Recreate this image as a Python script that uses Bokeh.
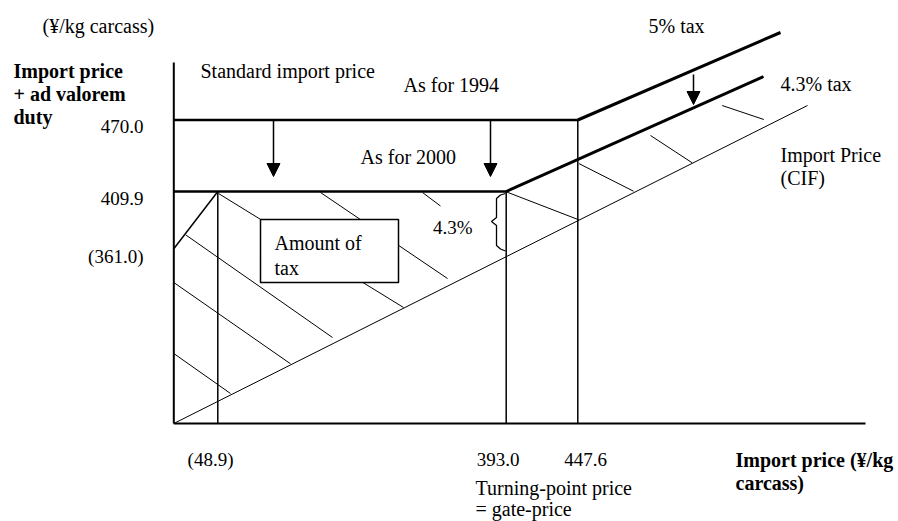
from bokeh.plotting import figure
from bokeh.models import Range1d, Arrow, NormalHead, Label
from bokeh.embed import file_html
from bokeh.resources import INLINE

# ---------------- data (values shown in the diagram) ----------------
import_price_vals = [48.9, 393.0, 447.6]
import_price_labels = ["(48.9)", "393.0", "447.6"]
duty_price_vals = [470.0, 409.9, 361.0]
duty_price_labels = ["470.0", "409.9", "(361.0)"]
tax_rates = ["5% tax", "4.3% tax"]

# ---------------- schematic layout (diagram is not to scale) ----------------
W, H = 898, 521
OX, OY = 173.3, 423.0          # origin of the diagram
XPOS = {0.0: OX, 48.9: 217.3, 393.0: 505.7, 447.6: 577.3}
YPOS = {470.0: 119.5, 409.9: 191.0, 361.0: 248.3}

FONT = "Liberation Serif"
FS = "20px"
FSN = "19px"

p = figure(width=W, height=H, x_range=Range1d(0, W), y_range=Range1d(H, 0),
           output_backend="svg", toolbar_location=None, min_border=0,
           x_axis_location=None, y_axis_location=None)
p.grid.visible = False
p.outline_line_color = None
p.background_fill_color = "white"
p.border_fill_color = "white"

def seg(x0, y0, x1, y1, w=1.0):
    p.line([x0, x1], [y0, y1], line_color="black", line_width=w)

x489, x393, x447 = XPOS[48.9], XPOS[393.0], XPOS[447.6]
y470, y409, y361 = YPOS[470.0], YPOS[409.9], YPOS[361.0]

# hatch lines (drawn first, under the "Amount of tax" box)
hatch = [
    (218, 193, 403, 307),
    (320, 192, 447, 278),
    (422, 192, 440, 205.5),
    (185.5, 234.6, 332, 337),
    (OX, 282, 290, 363.3),
    (OX, 353, 230, 393),
    (x393 + 1, 191.7, x447 + 1, 219.3),
    (x447 + 1, 163, 633, 190.7),
    (650, 135, 691.7, 162.3),
    (721.7, 105, 763.3, 119),
]
for h in hatch:
    seg(*h, w=1.0)

# axes
seg(OX, 62, OX, OY, 2.0)
seg(OX, OY, 865, OY, 2.0)

# import price (CIF) line
seg(OX, OY, 807, 105, 1.0)

# standard import price lines
seg(OX, y470, x447, y470, 2.5)
seg(OX, y409, x393, y409, 2.5)
# tax lines
seg(x447, y470, 780, 32, 3.0)
seg(x393, y409, 763, 76, 3.0)
# differential-duty diagonal
seg(OX, y361, x489, y409, 1.5)

# verticals
seg(x489, y409, x489, OY, 1.5)
seg(x393, y409, x393, OY, 1.5)
seg(x447, y470, x447, OY, 1.5)

# brace for 4.3%
p.line([505, 500, 496, 496, 491, 496, 496, 500, 505],
       [193, 194.5, 198, 217, 221, 225, 245, 248.5, 250.5],
       line_color="black", line_width=1.3)

# Amount of tax box
p.quad(left=[260], right=[398], top=[219], bottom=[282], fill_color="white",
       line_color="black", line_width=1.5)

# arrows
for (xa, ya0, ya1) in [(273, y470, 176), (490, y470, 176), (693, 74, 104)]:
    p.add_layout(Arrow(end=NormalHead(size=13, fill_color="black", line_color="black"),
                       x_start=xa, y_start=ya0, x_end=xa, y_end=ya1,
                       line_color="black", line_width=1.5))

def lab(x, y, t, align="left", bold=False, size=FS):
    p.add_layout(Label(x=x, y=y, text=t, text_align=align, text_baseline="middle",
                       text_font=FONT, text_font_size=size,
                       text_font_style="bold" if bold else "normal",
                       text_color="black"))

lab(42, 25, "(¥/kg carcass)")
lab(13, 70, "Import price", bold=True)
lab(13, 93, "+ ad valorem", bold=True)
lab(13, 116, "duty", bold=True)

ylab_pos = [126, 198, 256]
for v, t, yy in zip(duty_price_vals, duty_price_labels, ylab_pos):
    lab(143, yy, t, align="right", size=FSN)

xlab_pos = [210, 497.5, 585]
for v, t, xx in zip(import_price_vals, import_price_labels, xlab_pos):
    lab(xx, 459, t, align="center", size=FSN)

lab(200, 70, "Standard import price")
lab(403, 84, "As for 1994")
lab(360, 156, "As for 2000")
lab(648, 25, tax_rates[0])
lab(780, 83, tax_rates[1])
lab(780, 154, "Import Price")
lab(780, 177, "(CIF)")
lab(472, 227, "4.3%", align="right", size=FSN)
lab(274, 242, "Amount of")
lab(274, 267, "tax")
lab(475, 487, "Turning-point price")
lab(475, 508, "= gate-price")
lab(735, 459, "Import price (¥/kg", bold=True)
lab(735, 482, "carcass)", bold=True)

open("out.html", "w").write(file_html(p, INLINE))
